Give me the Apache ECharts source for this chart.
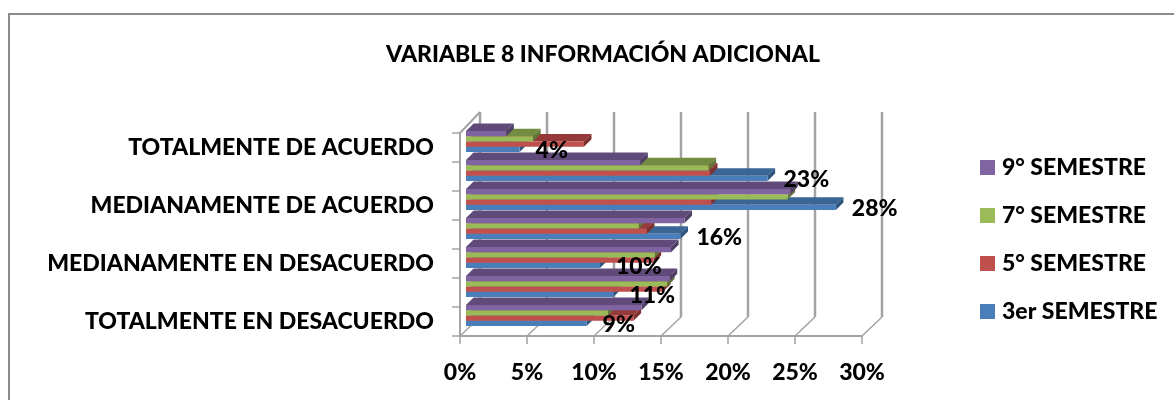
<!DOCTYPE html>
<html>
<head>
<meta charset="utf-8">
<title>Variable 8</title>
<script src="https://cdn.jsdelivr.net/npm/echarts@6/dist/echarts.min.js"></script>
<style>
    html, body { margin: 0; padding: 0; background: #fff; }
    #chart { width: 1174px; height: 400px; }
</style>
</head>
<body>
<div id="chart"></div>
<script>
const titleText = 'VARIABLE 8 INFORMACIÓN ADICIONAL';
// de abajo hacia arriba; las bandas sin texto no llevan etiqueta en el original
const categories = ['TOTALMENTE EN DESACUERDO', ' ', 'MEDIANAMENTE EN DESACUERDO', '  ', 'MEDIANAMENTE DE ACUERDO', '   ', 'TOTALMENTE DE ACUERDO'];
const xTicks = [0, 5, 10, 15, 20, 25, 30];

const sem3 = [9, 11, 10, 16, 27.6, 22.5, 4];
const sem5 = [12.5, 14.7, 14, 13.5, 18.3, 18.2, 8.8];
const sem7 = [10.6, 15, 14.1, 12.9, 24, 18.1, 5];
const sem9 = [13.1, 15.2, 15.3, 16.3, 24.2, 13, 3];

const legendOrder = ['9° SEMESTRE', '7° SEMESTRE', '5° SEMESTRE', '3er SEMESTRE'];

const FONT = 'Lato, "Open Sans", sans-serif';
const FONT_SIZE = 23;
const FONT_WEIGHT = 900;
const WALL = '#a3a3a3';
const FRAME = '#8c8c8c';

// desplazamientos de la falsa perspectiva, en pixeles
const BAR_DX = 6, BAR_DY = -6, BAR_H = 5.25, TOP_DX = 7.6, TOP_DY = -7.4;
const WALL_DX = 20, WALL_DY = -19, WALL_TOP = 112;

function barSeries(name, values, slot, front, top, side) {
    return {
        name: name,
        type: 'custom',
        coordinateSystem: 'cartesian2d',
        itemStyle: { color: front },
        z: 3 + slot,
        data: values.map((v, i) => [v, i]),
        encode: { x: 0, y: 1 },
        renderItem: function(params, api) {
            const end = api.coord([api.value(0), api.value(1)]);
            const x0 = api.coord([0, 0])[0] + BAR_DX;
            const x1 = end[0] + BAR_DX;
            // slot 0 es la barra de abajo del grupo
            const y1 = end[1] + BAR_DY + 10.5 - slot * BAR_H;
            const y0 = y1 - BAR_H;
            return {
                type: 'group',
                children: [
                    { type: 'polygon', shape: { points: [[x0, y0], [x1, y0], [x1 + TOP_DX, y0 + TOP_DY], [x0 + TOP_DX, y0 + TOP_DY]] }, style: { fill: top } },
                    { type: 'polygon', shape: { points: [[x1, y0], [x1 + TOP_DX, y0 + TOP_DY], [x1 + TOP_DX, y1 + TOP_DY], [x1, y1]] }, style: { fill: side } },
                    { type: 'rect', shape: { x: x0, y: y0, width: x1 - x0, height: BAR_H }, style: { fill: front } }
                ]
            };
        }
    };
}

const wallSeries = {
    type: 'custom',
    silent: true,
    z: 1,
    data: xTicks.map(t => [t]),
    encode: { x: 0 },
    renderItem: function(params, api) {
        const p = api.coord([api.value(0), 0]);
        const floorY = 336;
        return {
            type: 'group',
            children: [
                { type: 'line', shape: { x1: p[0], y1: floorY, x2: p[0] + WALL_DX, y2: floorY + WALL_DY }, style: { stroke: WALL, lineWidth: 1.5 } },
                { type: 'line', shape: { x1: p[0] + WALL_DX, y1: floorY + WALL_DY, x2: p[0] + WALL_DX, y2: WALL_TOP }, style: { stroke: WALL, lineWidth: 2.5 } }
            ]
        };
    }
};

// linea diagonal de arriba en la pared izquierda
const cornerSeries = {
    type: 'custom',
    silent: true,
    z: 1,
    data: [[0]],
    encode: { x: 0 },
    renderItem: function(params, api) {
        const p = api.coord([0, 0]);
        return {
            type: 'line',
            shape: { x1: p[0], y1: 133, x2: p[0] + WALL_DX, y2: WALL_TOP },
            style: { stroke: WALL, lineWidth: 2 }
        };
    }
};

const labelSeries = {
    type: 'custom',
    silent: true,
    z: 10,
    data: sem3.map((v, i) => [v, i]),
    encode: { x: 0, y: 1 },
    renderItem: function(params, api) {
        const v = api.value(0);
        const end = api.coord([v, api.value(1)]);
        return {
            type: 'text',
            style: {
                x: end[0] + BAR_DX + 16,
                y: end[1] + BAR_DY + 9,
                text: Math.round(v) + '%',
                fill: '#000',
                font: FONT_WEIGHT + ' ' + FONT_SIZE + 'px ' + FONT,
                textAlign: 'left',
                textVerticalAlign: 'middle'
            }
        };
    }
};

const myChart = echarts.init(document.getElementById('chart'), null, { renderer: 'canvas' });
myChart.setOption({
    animation: false,
    backgroundColor: '#fff',
    // el marco del original no cierra por la derecha ni por abajo
    graphic: [
        { type: 'line', silent: true, z: -1, shape: { x1: 8, y1: 14, x2: 1174, y2: 14 }, style: { stroke: FRAME, lineWidth: 2 } },
        { type: 'line', silent: true, z: -1, shape: { x1: 9, y1: 13, x2: 9, y2: 400 }, style: { stroke: FRAME, lineWidth: 2 } }
    ],
    title: {
        text: titleText,
        left: 598,
        top: 38,
        textAlign: 'center',
        textStyle: { fontFamily: FONT, fontSize: FONT_SIZE, fontWeight: FONT_WEIGHT, color: '#000' }
    },
    legend: {
        data: legendOrder,
        orient: 'vertical',
        left: 975,
        top: 151,
        itemWidth: 15,
        itemHeight: 15,
        itemGap: 25,
        icon: 'rect',
        selectedMode: false,
        textStyle: { fontFamily: FONT, fontSize: FONT_SIZE, fontWeight: FONT_WEIGHT, color: '#000', padding: [0, 0, 0, 2] }
    },
    grid: { left: 460, top: 133, width: 402, height: 203 },
    xAxis: {
        type: 'value',
        min: 0,
        max: 30,
        interval: 5,
        splitLine: { show: false },
        axisLine: { show: true, lineStyle: { color: WALL, width: 2 } },
        axisTick: { show: true, length: 8, lineStyle: { color: WALL, width: 1.5 } },
        axisLabel: { margin: 25, formatter: '{value}%', fontFamily: FONT, fontSize: FONT_SIZE, fontWeight: FONT_WEIGHT, color: '#000' }
    },
    yAxis: {
        type: 'category',
        data: categories,
        axisLine: { show: true, onZero: false, lineStyle: { color: WALL, width: 2 } },
        axisTick: { show: true, length: 8, lineStyle: { color: WALL, width: 1.5 } },
        axisLabel: { interval: 0, margin: 26, padding: [6, 0, 0, 0], fontFamily: FONT, fontSize: FONT_SIZE, fontWeight: FONT_WEIGHT, color: '#000' }
    },
    series: [
        wallSeries,
        cornerSeries,
        barSeries('3er SEMESTRE', sem3, 0, '#4a7ebb', '#3a6595', '#2f5480'),
        barSeries('5° SEMESTRE', sem5, 1, '#c0504d', '#953a38', '#7f302e'),
        barSeries('7° SEMESTRE', sem7, 2, '#9bbb59', '#748c42', '#637838'),
        barSeries('9° SEMESTRE', sem9, 3, '#8064a2', '#5f4a79', '#503e67'),
        labelSeries
    ]
});
window.addEventListener('resize', () => myChart.resize());
</script>
</body>
</html>
